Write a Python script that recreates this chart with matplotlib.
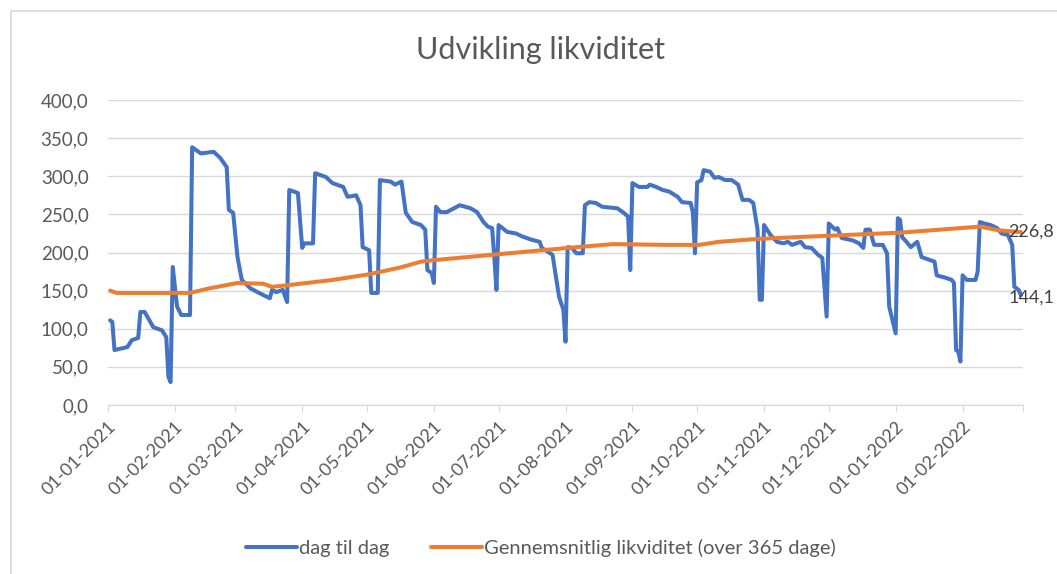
import numpy as np
import matplotlib
matplotlib.use("Agg")
import matplotlib.pyplot as plt
import matplotlib.dates as mdates
from matplotlib.patches import Rectangle

plt.rcParams['font.family'] = ['Lato', 'DejaVu Sans']

start_date = np.datetime64('2021-01-01')

# dag til dag (days since 01-01-2021, value)
blue_days = [1, 2, 3, 9, 11, 14, 15, 17, 21, 25, 27, 28, 29, 30, 32, 34, 38,
             39, 43, 49, 52, 55, 56, 58, 60, 62, 66, 70, 75, 76, 78, 81, 83,
             84, 88, 90, 91, 95, 96, 101, 104, 109, 111, 115, 117, 118, 121,
             122, 125, 126, 131, 133, 136, 138, 141, 145, 147, 148, 150, 151,
             152, 154, 157, 163, 168, 171, 174, 176, 178, 179, 180, 181, 185,
             189, 192, 196, 200, 201, 206, 209, 211, 212, 213, 215, 217, 220,
             221, 223, 226, 229, 236, 239, 241, 242, 243, 246, 250, 251, 254,
             257, 260, 264, 266, 270, 271, 272, 273, 275, 276, 279, 281, 283,
             286, 289, 292, 294, 297, 299, 301, 302, 303, 304, 307, 310, 313,
             315, 317, 321, 323, 326, 329, 331, 333, 334, 337, 338, 340, 345,
             348, 350, 351, 353, 355, 359, 361, 362, 365, 366, 367, 368, 370,
             372, 375, 377, 381, 383, 384, 388, 391, 392, 393, 394, 395, 396,
             398, 402, 403, 404, 406, 409, 412, 414, 417, 419, 420, 422, 423]
blue_vals = [111, 109, 72, 76, 85, 88, 122, 122, 102, 98, 89, 37, 30, 181, 129,
             118, 118, 338, 330, 332, 324, 312, 256, 252, 194, 164, 153, 147,
             140, 151, 148, 151, 135, 282, 278, 206, 212, 212, 304, 299, 291,
             286, 273, 275, 262, 207, 203, 147, 147, 295, 293, 289, 293, 252,
             240, 236, 230, 177, 173, 160, 260, 253, 253, 262, 258, 253, 240,
             234, 232, 194, 151, 236, 227, 225, 221, 217, 214, 206, 197, 142,
             125, 83, 207, 206, 199, 199, 262, 266, 265, 260, 258, 252, 247,
             177, 291, 286, 286, 289, 286, 282, 280, 273, 266, 265, 253, 199,
             292, 295, 308, 306, 298, 299, 295, 295, 289, 269, 269, 265, 230,
             138, 138, 236, 223, 214, 212, 214, 210, 214, 207, 206, 197, 193,
             116, 238, 230, 232, 219, 216, 212, 206, 230, 230, 210, 210, 199,
             129, 94, 245, 243, 220, 214, 207, 214, 194, 190, 188, 170, 167,
             164, 160, 72, 70, 57, 170, 164, 164, 175, 240, 238, 236, 232, 225,
             223, 210, 155, 151, 144.1]

# Gennemsnitlig likviditet (over 365 dage)
orange_days = [1, 4, 38, 47, 60, 72, 76, 83, 104, 120, 135, 145, 151, 182,
               213, 234, 259, 274, 283, 302, 334, 367, 395, 404, 413, 423]
orange_vals = [150, 147, 147, 153, 160, 159, 155, 157, 164, 171, 180, 188, 190,
               198, 206, 211, 210, 210, 214, 218, 222, 226, 232, 234, 229, 226.8]

month_ticks = ['2021-01-01', '2021-02-01', '2021-03-01', '2021-04-01',
               '2021-05-01', '2021-06-01', '2021-07-01', '2021-08-01',
               '2021-09-01', '2021-10-01', '2021-11-01', '2021-12-01',
               '2022-01-01', '2022-02-01', '2022-03-01']

blue_x = start_date + np.array(blue_days).astype('timedelta64[D]')
orange_x = start_date + np.array(orange_days).astype('timedelta64[D]')
tick_x = np.array(month_ticks, dtype='datetime64[D]')

grey_txt = '#595959'
grid_c = '#d9d9d9'

fig = plt.figure(figsize=(10.57, 5.74), dpi=100)
ax = fig.add_axes([108 / 1057, 1 - 405 / 574, (1023 - 108) / 1057, (405 - 100) / 574])

# chart border (Excel chart area)
fig.patches.append(Rectangle((11 / 1057, -0.1), 1.2, 1 - 11 / 574 + 0.1,
                             transform=fig.transFigure, fill=False,
                             edgecolor=grid_c, linewidth=1.2))

ax.plot(blue_x, blue_vals, color='#4472C4', lw=2.9, label='dag til dag',
        solid_joinstyle='round', solid_capstyle='round')
ax.plot(orange_x, orange_vals, color='#ED7D31', lw=2.9,
        label='Gennemsnitlig likviditet (over 365 dage)',
        solid_joinstyle='round', solid_capstyle='round')

ax.set_ylim(0, 400)
ax.set_yticks(np.arange(0, 401, 50))
ax.set_yticklabels(['{:.1f}'.format(v).replace('.', ',') for v in np.arange(0, 401, 50)])
ax.set_xlim(tick_x[0], tick_x[-1])
ax.set_xticks(tick_x)
labels = [mdates.num2date(mdates.date2num(t)).strftime('%d-%m-%Y') for t in tick_x]
labels[-1] = ''
ax.set_xticklabels(labels, rotation=45, ha='right', va='top', rotation_mode='anchor')

ax.grid(axis='y', color=grid_c, lw=1)
ax.set_axisbelow(True)
for s in ['top', 'right', 'left']:
    ax.spines[s].set_visible(False)
ax.spines['bottom'].set_color(grid_c)
ax.tick_params(axis='y', length=0, pad=14, labelsize=13.5, labelcolor=grey_txt)
ax.tick_params(axis='x', length=5, color=grid_c, pad=5, labelsize=13, labelcolor=grey_txt)

# data labels at the last points
ax.annotate('226,8', (orange_x[-1], orange_vals[-1]), xytext=(-9, 0),
            textcoords='offset points', ha='left', va='center', fontsize=13,
            color='#404040', annotation_clip=False)
ax.annotate('144,1', (blue_x[-1], blue_vals[-1]), xytext=(-9, -2),
            textcoords='offset points', ha='left', va='center', fontsize=13,
            color='#404040', annotation_clip=False)

fig.text(540 / 1057, 1 - 59 / 574, 'Udvikling likviditet', ha='center',
         va='baseline', fontsize=22, color=grey_txt)

fig.legend(loc='center', bbox_to_anchor=(541 / 1057, 1 - 548 / 574), ncol=2,
           frameon=False, fontsize=14.5, handlelength=2.5, columnspacing=2.1,
           handletextpad=0.1, labelcolor=grey_txt)

fig.savefig('out.png', dpi=100)
